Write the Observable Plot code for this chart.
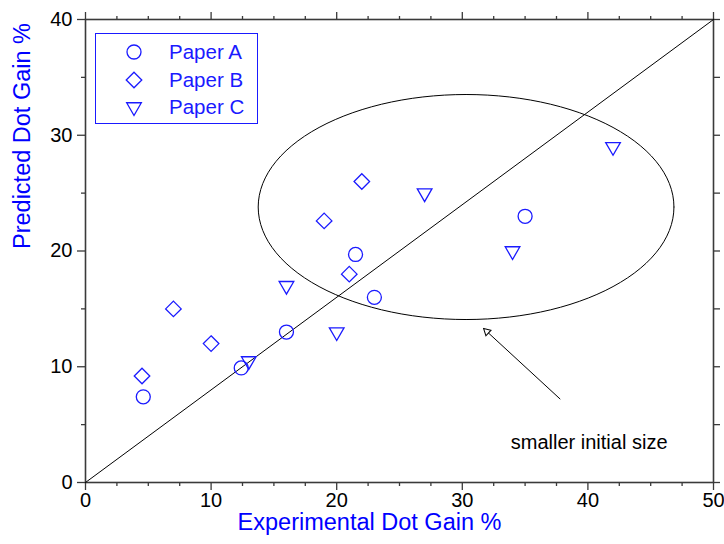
<!DOCTYPE html>
<html>
<head>
<meta charset="utf-8">
<script src="https://cdn.jsdelivr.net/npm/d3@7"></script>
<script src="https://cdn.jsdelivr.net/npm/@observablehq/plot@0.6"></script>
<style>
  html, body { margin: 0; padding: 0; background: #fff; }
  #wrap { position: relative; width: 724px; height: 544px; font-family: "Liberation Sans", Arial, sans-serif; }
  #legend { position: absolute; left: 95px; top: 33px; width: 161px; height: 89px; border: 1.5px solid #1a1aff; background: #fff; }
  .row { position: absolute; left: 0; height: 26px; display: flex; align-items: center; }
  .row svg { position: absolute; left: 28px; }
  .row span { position: absolute; left: 73px; color: #1a1aff; font-size: 20.5px; white-space: nowrap; line-height: 26px; }
</style>
</head>
<body>
<div id="wrap"><div id="legend"></div></div>
<script>
// ---- data ----
const seriesNames = ["Paper A", "Paper B", "Paper C"];
const paperA_x = [4.6, 12.4, 16, 21.5, 23, 35];
const paperA_y = [7.4, 9.9, 13, 19.7, 16, 23];
const paperB_x = [4.5, 7, 10, 19, 21, 22];
const paperB_y = [9.2, 15, 12, 22.6, 18, 26];
const paperC_x = [13, 16, 20, 27, 34, 42];
const paperC_y = [10.5, 17, 13, 25, 20, 29];

const xMajorTicks = [0, 10, 20, 30, 40, 50];
const xMinorTicks = [2.5, 5, 7.5, 12.5, 15, 17.5, 22.5, 25, 27.5, 32.5, 35, 37.5, 42.5, 45, 47.5];
const yMajorTicks = [0, 10, 20, 30, 40];
const yMinorTicks = [5, 15, 25, 35];

const diagonalX = [0, 50];
const diagonalY = [0, 40];

// ellipse parameters (centre and radii, in data units)
const ellipseCx = 30.3, ellipseCy = 23.8, ellipseRx = 16.55, ellipseRy = 9.72;

// annotation
const annotText = ["smaller initial size"];
const annotX = [40.1], annotY = [3.45];
const arrowFrom = [37.8, 7.2];
const arrowTo = [31.7, 13.3];

const xTitle = "Experimental Dot Gain %";
const yTitle = "Predicted Dot Gain %";

// ---- layout ----
const W = 724, H = 544, mL = 85, mR = 11, mT = 19, mB = 62;

// ---- derived tables ----
const mk = (xs, ys, s) => xs.map((x, i) => ({x, y: ys[i], s}));
const pts = [
  ...mk(paperA_x, paperA_y, seriesNames[0]),
  ...mk(paperB_x, paperB_y, seriesNames[1]),
  ...mk(paperC_x, paperC_y, seriesNames[2])
];
const diag = diagonalX.map((x, i) => ({x, y: diagonalY[i]}));
const ell = d3.range(0, 361, 3).map(a => ({
  x: ellipseCx + ellipseRx * Math.cos(a * Math.PI / 180),
  y: ellipseCy + ellipseRy * Math.sin(a * Math.PI / 180)
}));

// arrow head orientation (pixel space)
const kx = (W - mL - mR) / 50, ky = (H - mT - mB) / 40;
const vx = (arrowTo[0] - arrowFrom[0]) * kx, vy = -(arrowTo[1] - arrowFrom[1]) * ky;
const vl = Math.hypot(vx, vy), ux = vx / vl, uy = vy / vl;
const headAngle = Math.atan2(ux, -uy) * 180 / Math.PI;
const headR = 3.6;
const headS = Math.sqrt(Math.PI * headR * headR) * 0.6824;

const blue = "#1a1aff";
const axisStroke = "#3a3a3a";
const noText = () => "";

const chart = Plot.plot({
  width: W,
  height: H,
  marginLeft: mL,
  marginRight: mR,
  marginTop: mT,
  marginBottom: mB,
  style: {fontFamily: "Liberation Sans, Arial, sans-serif", color: "#000", background: "transparent"},
  x: {domain: [0, 50], axis: null},
  y: {domain: [0, 40], axis: null},
  marks: [
    // bottom axis
    Plot.axisX({anchor: "bottom", ticks: xMajorTicks, tickSize: 8, tickPadding: 2, fontSize: 20, stroke: axisStroke, strokeWidth: 1.3, label: null}),
    Plot.axisX({anchor: "bottom", ticks: xMinorTicks, tickSize: 4, tickFormat: noText, stroke: axisStroke, strokeWidth: 1.3, label: null}),
    // top axis
    Plot.axisX({anchor: "top", ticks: xMajorTicks, tickSize: 8, tickFormat: noText, stroke: axisStroke, strokeWidth: 1.3, label: null}),
    Plot.axisX({anchor: "top", ticks: xMinorTicks, tickSize: 4, tickFormat: noText, stroke: axisStroke, strokeWidth: 1.3, label: null}),
    // left axis
    Plot.axisY({anchor: "left", ticks: yMajorTicks, tickSize: 8, tickPadding: 5, fontSize: 20, stroke: axisStroke, strokeWidth: 1.3, label: null}),
    Plot.axisY({anchor: "left", ticks: yMinorTicks, tickSize: 4, tickFormat: noText, stroke: axisStroke, strokeWidth: 1.3, label: null}),
    // right axis
    Plot.axisY({anchor: "right", ticks: yMajorTicks, tickSize: 6, tickFormat: noText, stroke: axisStroke, strokeWidth: 1.3, label: null}),
    Plot.axisY({anchor: "right", ticks: yMinorTicks, tickSize: 6, tickFormat: noText, stroke: axisStroke, strokeWidth: 1.3, label: null}),
    Plot.frame({stroke: axisStroke, strokeWidth: 1.6}),
    // diagonal
    Plot.line(diag, {x: "x", y: "y", stroke: "#000", strokeWidth: 1}),
    // ellipse
    Plot.line(ell, {x: "x", y: "y", stroke: "#000", strokeWidth: 1, curve: "linear"}),
    // arrow: shaft + hollow head
    Plot.link([{x1: arrowFrom[0], y1: arrowFrom[1], x2: arrowTo[0], y2: arrowTo[1]}],
      {x1: "x1", y1: "y1", x2: "x2", y2: "y2", stroke: "#000", strokeWidth: 1}),
    Plot.dot([{x: arrowTo[0], y: arrowTo[1]}], {x: "x", y: "y", symbol: "triangle2", r: headR, rotate: headAngle,
      dx: -ux * headS, dy: -uy * headS, fill: "#fff", stroke: "#000", strokeWidth: 1}),
    Plot.text(annotText, {x: annotX, y: annotY, text: d => d, fontSize: 20, fill: "#000"}),
    // points
    Plot.dot(pts.filter(d => d.s === seriesNames[0]), {x: "x", y: "y", symbol: "circle", r: 7, stroke: blue, strokeWidth: 1.3, fill: "none"}),
    Plot.dot(pts.filter(d => d.s === seriesNames[1]), {x: "x", y: "y", symbol: "diamond2", r: 7, stroke: blue, strokeWidth: 1.3, fill: "none"}),
    Plot.dot(pts.filter(d => d.s === seriesNames[2]), {x: "x", y: "y", symbol: "triangle2", rotate: 180, r: 7, stroke: blue, strokeWidth: 1.3, fill: "none"}),
    // titles
    Plot.text([xTitle], {frameAnchor: "bottom", dy: 47, dx: -30, text: d => d, fill: "#0000ff", fontSize: 23.5}),
    Plot.text([yTitle], {frameAnchor: "left", dx: -63, dy: -2, rotate: -90, text: d => d, fill: "#0000ff", fontSize: 23.5})
  ]
});
document.getElementById("wrap").prepend(chart);

// legend
const legend = document.getElementById("legend");
const syms = [
  {t: d3.symbolCircle, rot: 0},
  {t: d3.symbolDiamond2, rot: 0},
  {t: d3.symbolTriangle2, rot: 180}
];
seriesNames.forEach((name, i) => {
  const row = document.createElement("div");
  row.className = "row";
  row.style.top = (5 + i * 27.5) + "px";
  const svg = d3.create("svg").attr("width", 20).attr("height", 20);
  svg.append("path")
    .attr("d", d3.symbol(syms[i].t, Math.PI * 49)())
    .attr("transform", `translate(10,10) rotate(${syms[i].rot})`)
    .attr("fill", "none").attr("stroke", blue).attr("stroke-width", 1.3);
  row.appendChild(svg.node());
  const sp = document.createElement("span");
  sp.textContent = name;
  row.appendChild(sp);
  legend.appendChild(row);
});
</script>
</body>
</html>
